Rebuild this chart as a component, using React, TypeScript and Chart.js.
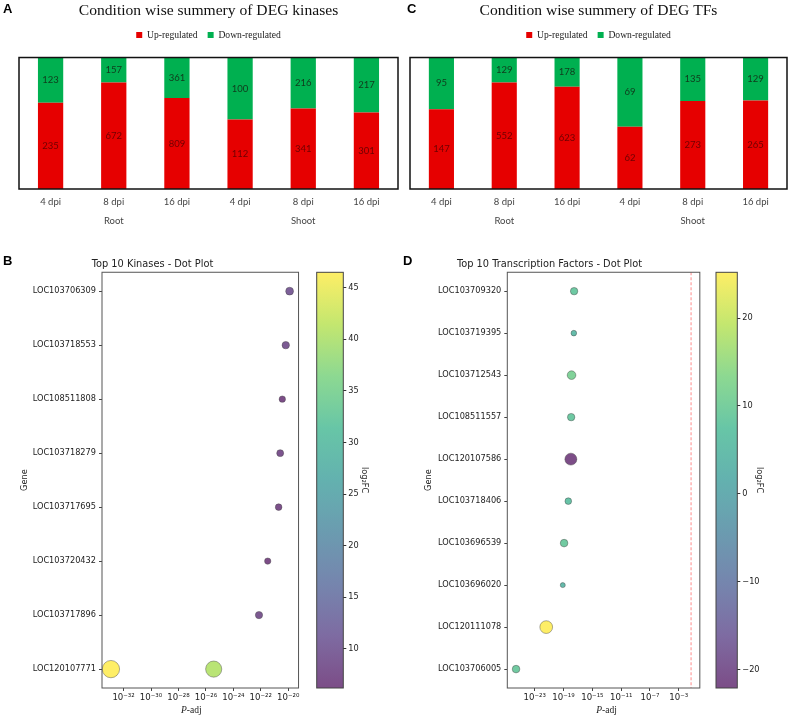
import React, { useEffect, useRef } from 'react';
import { Chart, registerables } from 'chart.js';

Chart.register(...registerables);

// ---- Panels A / C: up- and down-regulated counts per condition ----
const dpiLabels = ['4 dpi', '8 dpi', '16 dpi', '4 dpi', '8 dpi', '16 dpi'];
const tissueLabels = ['', 'Root', '', '', 'Shoot', ''];
const kinaseUp = [235, 672, 809, 112, 341, 301];
const kinaseDown = [123, 157, 361, 100, 216, 217];
const tfUp = [147, 552, 623, 62, 273, 265];
const tfDown = [95, 129, 178, 69, 135, 129];

// ---- Panel B: top kinases ----
const kinaseGenes = [
  'LOC103706309', 'LOC103718553', 'LOC108511808', 'LOC103718279',
  'LOC103717695', 'LOC103720432', 'LOC103717896', 'LOC120107771',
];
const kinasePointGenes = [
  'LOC103706309', 'LOC103718553', 'LOC108511808', 'LOC103718279',
  'LOC103717695', 'LOC103720432', 'LOC103717896', 'LOC120107771', 'LOC120107771',
];
const kinasePadj = [1.26e-20, 6.6e-21, 3.7e-21, 2.6e-21, 2.0e-21, 3.2e-22, 7.4e-23, 1.2e-33, 3.7e-26];
const kinaseLog2FC = [9.5, 8.5, 6.3, 7.5, 6.8, 6.2, 8.2, 46.5, 40.5];
const kinasePTicks = [1e-32, 1e-30, 1e-28, 1e-26, 1e-24, 1e-22, 1e-20];
const kinaseFCTicks = [10, 15, 20, 25, 30, 35, 40, 45];

// ---- Panel D: top transcription factors ----
const tfGenes = [
  'LOC103709320', 'LOC103719395', 'LOC103712543', 'LOC108511557', 'LOC120107586',
  'LOC103718406', 'LOC103696539', 'LOC103696020', 'LOC120111078', 'LOC103706005',
];
const tfPadj = [2.95e-18, 2.7e-18, 1.3e-18, 1.15e-18, 1.05e-18, 4.6e-19, 1.2e-19, 7.9e-20, 4.0e-22, 2.6e-26];
const tfLog2FC = [8.5, 4.9, 11.5, 8.5, -22.1, 6.8, 9, 3.9, 25.2, 9];
const tfPTicks = [1e-23, 1e-19, 1e-15, 1e-11, 1e-7, 1e-3];
const tfFCTicks = [-20, -10, 0, 10, 20];
const tfPadjCutoff = [0.05];

const RED = '#e60000';
const GREEN = '#00b050';
const DV = 'DejaVu Sans';
const INK = '#222';

// viridis colormap anchors
const VIRIDIS = [
  [68, 1, 84], [71, 44, 122], [59, 81, 139], [44, 113, 142], [33, 144, 141],
  [39, 173, 129], [92, 200, 99], [170, 220, 50], [253, 231, 37],
];
function viridis(t: number, a: number) {
  const tt = Math.max(0, Math.min(1, t));
  const s = tt * 8;
  const i = Math.min(7, Math.floor(s));
  const f = s - i;
  const c = VIRIDIS[i].map((v, k) => Math.round(v + (VIRIDIS[i + 1][k] - v) * f));
  return `rgba(${c[0]},${c[1]},${c[2]},${a})`;
}

const SUP: Record<string, string> = {
  '-': '\u207B', '0': '\u2070', '1': '\u00B9', '2': '\u00B2', '3': '\u00B3',
  '4': '\u2074', '5': '\u2075', '6': '\u2076', '7': '\u2077', '8': '\u2078', '9': '\u2079',
};
const pow10Label = (v: number) =>
  '10' + String(Math.round(Math.log10(v))).split('').map((c) => SUP[c]).join('');
const minusLabel = (v: number) => String(v).replace('-', '\u2212');

const frame = (color: string, width: number) => ({
  id: 'frame',
  afterDraw(chart: any) {
    const { ctx, chartArea } = chart;
    const { left, top, right, bottom } = chartArea;
    ctx.save();
    ctx.strokeStyle = color;
    ctx.lineWidth = width;
    ctx.strokeRect(left, top, right - left, bottom - top);
    ctx.restore();
  },
});

// value labels in the middle of every stacked segment
const barCounts = {
  id: 'barCounts',
  afterDatasetsDraw(chart: any) {
    const ctx = chart.ctx;
    chart.data.datasets.forEach((ds: any, d: number) => {
      const meta = chart.getDatasetMeta(d);
      meta.data.forEach((el: any, i: number) => {
        const { x, y, base } = el.getProps(['x', 'y', 'base'], true);
        ctx.save();
        ctx.fillStyle = ds.labelColor;
        ctx.font = '9.5px Lato';
        ctx.textAlign = 'center';
        ctx.textBaseline = 'middle';
        ctx.fillText(String(ds.counts[i]), x, (y + base) / 2);
        ctx.restore();
      });
    });
  },
};

// extra room between the legend and the plot box
const legendGap = (extra: number) => ({
  id: 'legendGap',
  beforeLayout(chart: any) {
    const lg = chart.legend;
    if (lg && !lg.__gap) {
      const fit = lg.fit;
      lg.fit = function () {
        fit.call(this);
        this.height += extra;
      };
      lg.__gap = true;
    }
  },
});

// x-axis title with italic P
const padjTitle = (shift: number) => ({
  id: 'padjTitle',
  afterDraw(chart: any) {
    const { ctx, chartArea } = chart;
    const cx = (chartArea.left + chartArea.right) / 2 + shift;
    const y = chart.height - 7;
    const f1 = 'italic 9.5px "Liberation Serif"';
    const f2 = '9.5px "Liberation Serif"';
    ctx.save();
    ctx.fillStyle = INK;
    ctx.textBaseline = 'middle';
    ctx.textAlign = 'left';
    ctx.font = f1;
    const w1 = ctx.measureText('P').width;
    ctx.font = f2;
    const w2 = ctx.measureText('-adj').width;
    const x0 = cx - (w1 + w2) / 2;
    ctx.font = f1;
    ctx.fillText('P', x0, y);
    ctx.font = f2;
    ctx.fillText('-adj', x0 + w1, y);
    ctx.restore();
  },
});

function degChart(canvas: HTMLCanvasElement, title: string, up: number[], down: number[], padL: number, padR: number) {
  const total = up.map((u, i) => u + down[i]);
  return new Chart(canvas, {
    type: 'bar',
    data: {
      labels: dpiLabels,
      datasets: [
        {
          label: 'Up-regulated',
          data: up.map((u, i) => (100 * u) / total[i]),
          counts: up,
          labelColor: '#6e0000',
          backgroundColor: RED,
          barPercentage: 0.4,
          categoryPercentage: 1,
        } as any,
        {
          label: 'Down-regulated',
          data: down.map((v, i) => (100 * v) / total[i]),
          counts: down,
          labelColor: '#103a1c',
          backgroundColor: GREEN,
          barPercentage: 0.4,
          categoryPercentage: 1,
        } as any,
      ],
    },
    options: {
      responsive: false,
      animation: false,
      layout: { padding: { left: padL, right: padR, top: 0, bottom: 0 } },
      plugins: {
        title: {
          display: true,
          text: title,
          color: '#111',
          font: { family: 'Liberation Serif', size: 15.6, weight: 'normal' },
          padding: { top: 1.5, bottom: 0 },
        },
        legend: {
          display: true,
          position: 'top',
          labels: {
            boxWidth: 6,
            boxHeight: 6,
            padding: 10,
            color: INK,
            font: { family: 'Liberation Serif', size: 9.6 },
          },
        },
        tooltip: { enabled: false },
      },
      scales: {
        x: {
          stacked: true,
          grid: { display: false, drawTicks: false },
          border: { display: false },
          ticks: {
            callback: (_v: any, i: number) => [dpiLabels[i], tissueLabels[i]],
            font: { family: 'Lato', size: 9.5, lineHeight: 2 },
            color: '#444',
            padding: 3.5,
            maxRotation: 0,
            autoSkip: false,
          },
          afterFit: (s: any) => {
            s.height = 43;
          },
        },
        y: { stacked: true, display: false, min: 0, max: 100 },
      },
    } as any,
    plugins: [frame('#111', 1.5), barCounts, legendGap(7.7)],
  });
}

function dotChart(canvas: HTMLCanvasElement, cfg: any) {
  const n = cfg.genes.length;
  const yPad = 0.05 * (n - 1);
  const logs = cfg.padj.map(Math.log10).concat((cfg.cutoff || []).map(Math.log10));
  const lo = Math.min(...logs);
  const hi = Math.max(...logs);
  const xm = 0.05 * (hi - lo);
  const fcMin = Math.min(...cfg.fc);
  const fcMax = Math.max(...cfg.fc);
  const points = cfg.padj.map((p: number, i: number) => ({
    x: p,
    y: cfg.genes.indexOf(cfg.pointGenes[i]),
    fc: cfg.fc[i],
  }));
  const datasets: any[] = [];
  (cfg.cutoff || []).forEach((c: number) => {
    datasets.push({
      type: 'scatter',
      showLine: true,
      data: [{ x: c, y: -yPad }, { x: c, y: n - 1 + yPad }],
      borderColor: 'rgba(255,60,60,0.6)',
      borderWidth: 1,
      borderDash: [3, 2],
      pointRadius: 0,
      fill: false,
    });
  });
  datasets.push({
    type: 'scatter',
    data: points,
    pointRadius: (c: any) => (c.raw ? 1.27 * Math.sqrt(Math.abs(c.raw.fc)) : 3),
    backgroundColor: (c: any) =>
      c.raw ? viridis((c.raw.fc - fcMin) / (fcMax - fcMin), 0.7) : viridis(0.5, 0.7),
    borderColor: 'rgba(70,70,70,0.55)',
    borderWidth: 0.8,
  });
  const tickFont = { family: DV, size: 8.2 };
  return new Chart(canvas, {
    type: 'scatter',
    data: { datasets },
    options: {
      responsive: false,
      animation: false,
      layout: { padding: { left: 0, right: cfg.padR, top: 0, bottom: 0 } },
      plugins: {
        title: {
          display: true,
          text: cfg.title,
          color: INK,
          font: { family: DV, size: 9.8, weight: 'normal' },
          padding: { top: 13.1, bottom: 2.4 },
        },
        legend: { display: false },
        tooltip: { enabled: false },
      },
      scales: {
        x: {
          type: 'logarithmic',
          min: Math.pow(10, lo - xm),
          max: Math.pow(10, hi + xm),
          afterBuildTicks: (s: any) => {
            s.ticks = cfg.pTicks.map((v: number) => ({ value: v }));
          },
          afterFit: (s: any) => {
            s.height = 29;
          },
          ticks: {
            callback: (v: any) => pow10Label(Number(v)),
            font: { family: DV, size: 8.6 },
            color: INK,
            padding: 2,
            maxRotation: 0,
            autoSkip: false,
          },
          grid: { display: true, drawOnChartArea: false, tickLength: 3, tickColor: '#444' },
          border: { display: false },
        },
        y: {
          type: 'linear',
          reverse: true,
          min: -yPad,
          max: n - 1 + yPad,
          afterBuildTicks: (s: any) => {
            s.ticks = cfg.genes.map((_g: string, i: number) => ({ value: i }));
          },
          afterFit: (s: any) => {
            s.width = cfg.yWidth;
          },
          ticks: {
            callback: (v: any) => cfg.genes[Math.round(Number(v))],
            font: tickFont,
            color: INK,
            padding: 3,
            autoSkip: false,
          },
          grid: { display: true, drawOnChartArea: false, tickLength: 3, tickColor: '#444' },
          border: { display: false },
          title: {
            display: true,
            text: 'Gene',
            color: INK,
            font: tickFont,
            padding: { top: cfg.geneTitlePad, bottom: 0 },
          },
        },
      },
    } as any,
    plugins: [frame('#555', 1), padjTitle(cfg.padjShift)],
  });
}

function colorbar(canvas: HTMLCanvasElement, fc: number[], ticks: number[], axisW: number, titlePad: number, padL: number, padR: number) {
  const lo = Math.min(...fc);
  const hi = Math.max(...fc);
  const tickFont = { family: DV, size: 8.2 };
  return new Chart(canvas, {
    type: 'bar',
    data: {
      labels: [''],
      datasets: [
        {
          data: [[lo, hi]],
          backgroundColor: (c: any) => {
            const ca = c.chart.chartArea;
            if (!ca) return viridis(0.5, 0.7);
            const g = c.chart.ctx.createLinearGradient(0, ca.bottom, 0, ca.top);
            for (let i = 0; i <= 16; i++) g.addColorStop(i / 16, viridis(i / 16, 0.7));
            return g;
          },
          barPercentage: 1,
          categoryPercentage: 1,
          borderWidth: 0,
        } as any,
      ],
    },
    options: {
      responsive: false,
      animation: false,
      layout: { padding: { left: padL, right: padR, top: 27.3, bottom: 29 } },
      plugins: { legend: { display: false }, title: { display: false }, tooltip: { enabled: false } },
      scales: {
        x: { display: false },
        y: {
          position: 'right',
          min: lo,
          max: hi,
          afterBuildTicks: (s: any) => {
            s.ticks = ticks.map((v) => ({ value: v }));
          },
          afterFit: (s: any) => {
            s.width = axisW;
          },
          ticks: { callback: (v: any) => minusLabel(Number(v)), font: tickFont, color: INK, padding: 2 },
          grid: { display: true, drawOnChartArea: false, tickLength: 3, tickColor: '#333' },
          border: { display: false },
          title: {
            display: true,
            text: 'log\u2082FC',
            color: INK,
            font: tickFont,
            padding: { top: titlePad, bottom: 0 },
          },
        },
      },
    } as any,
    plugins: [frame('#444', 1)],
  });
}

const letterStyle = (left: number, top: number): React.CSSProperties => ({
  position: 'absolute',
  left,
  top,
  font: 'bold 13px "Liberation Sans", Arial, sans-serif',
  lineHeight: '13px',
  color: '#000',
});

const abs = (left: number, top: number): React.CSSProperties => ({ position: 'absolute', left, top });

export default function App() {
  const aRef = useRef<HTMLCanvasElement>(null);
  const cRef = useRef<HTMLCanvasElement>(null);
  const bRef = useRef<HTMLCanvasElement>(null);
  const bcbRef = useRef<HTMLCanvasElement>(null);
  const dRef = useRef<HTMLCanvasElement>(null);
  const dcbRef = useRef<HTMLCanvasElement>(null);

  useEffect(() => {
    const charts = [
      degChart(aRef.current!, 'Condition wise summery of DEG kinases', kinaseUp, kinaseDown, 19, 2),
      degChart(cRef.current!, 'Condition wise summery of DEG TFs', tfUp, tfDown, 15, 3),
      dotChart(bRef.current!, {
        title: 'Top 10 Kinases - Dot Plot',
        genes: kinaseGenes,
        pointGenes: kinasePointGenes,
        padj: kinasePadj,
        fc: kinaseLog2FC,
        pTicks: kinasePTicks,
        yWidth: 102,
        geneTitlePad: 20,
        padR: 3,
        padjShift: -9,
      }),
      colorbar(bcbRef.current!, kinaseLog2FC, kinaseFCTicks, 36, 10.5, 6.7, 0.7),
      dotChart(dRef.current!, {
        title: 'Top 10 Transcription Factors - Dot Plot',
        genes: tfGenes,
        pointGenes: tfGenes,
        padj: tfPadj,
        fc: tfLog2FC,
        pTicks: tfPTicks,
        cutoff: tfPadjCutoff,
        yWidth: 112.3,
        geneTitlePad: 29,
        padR: 3,
        padjShift: 3,
      }),
      colorbar(dcbRef.current!, tfLog2FC, tfFCTicks, 34, 7, 6, 12.7),
    ];
    return () => charts.forEach((c) => c.destroy());
  }, []);

  return (
    <div style={{ position: 'absolute', left: 0, top: 0, width: 790, height: 717, background: '#fff', overflow: 'hidden' }}>
      <canvas ref={aRef} width={400} height={232} style={abs(0, 0)} />
      <canvas ref={cRef} width={395} height={232} style={abs(395, 0)} />
      <canvas ref={bRef} width={308} height={472} style={abs(0, 245)} />
      <canvas ref={bcbRef} width={70} height={472} style={abs(310, 245)} />
      <canvas ref={dRef} width={312} height={472} style={abs(395, 245)} />
      <canvas ref={dcbRef} width={74} height={472} style={abs(710, 245)} />
      <div style={letterStyle(3, 2)}>A</div>
      <div style={letterStyle(407, 2)}>C</div>
      <div style={letterStyle(3, 254)}>B</div>
      <div style={letterStyle(403, 254)}>D</div>
    </div>
  );
}
